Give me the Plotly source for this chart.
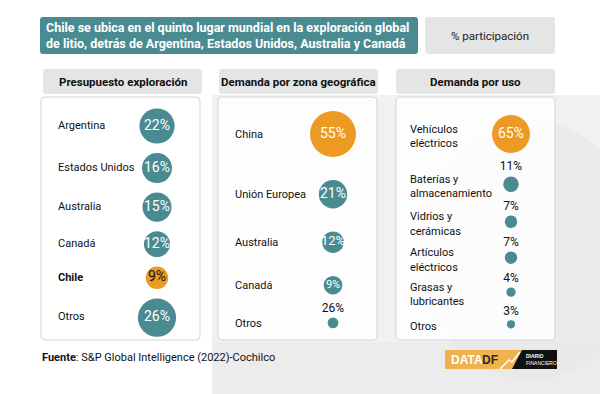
import numpy as np
import plotly.graph_objects as go

# ---------------- data ----------------
title_lines = ["Chile se ubica en el quinto lugar mundial en la exploración global",
               "de litio, detrás de Argentina, Estados Unidos, Australia y Canadá"]
unit_label = "% participación"
panel_titles = ["Presupuesto exploración", "Demanda por zona geográfica", "Demanda por uso"]

budget_cats = ["Argentina", "Estados Unidos", "Australia", "Canadá", "Chile", "Otros"]
budget_vals = [22, 16, 15, 12, 9, 26]
budget_labels = ["22%", "16%", "15%", "12%", "9%", "26%"]
budget_highlight = "Chile"

geo_cats = ["China", "Unión Europea", "Australia", "Canadá", "Otros"]
geo_vals = [55, 21, 12, 9, 3]
geo_labels = ["55%", "21%", "12%", "9%", "26%"]
geo_highlight = "China"

use_cats = ["Vehículos<br>eléctricos", "Baterías y<br>almacenamiento", "Vidrios y<br>cerámicas",
            "Artículos<br>eléctricos", "Grasas y<br>lubricantes", "Otros"]
use_vals = [65, 11, 7, 7, 4, 3]
use_labels = ["65%", "11%", "7%", "7%", "4%", "3%"]
use_highlight = "Vehículos<br>eléctricos"

source_text = "S&P Global Intelligence (2022)-Cochilco"

# ---------------- styles ----------------
W, H = 600, 394
FONT = "Roboto, sans-serif"
TEAL = "#4a8b92"
ORANGE = "#ec9a24"
HEADER_GRAY = "#e5e5e5"

panels = [
    dict(cats=budget_cats, vals=budget_vals, labels=budget_labels, hl=budget_highlight,
         box=(41, 97, 200, 340), head=(43, 69, 202, 94), xc=157, xl=58, k=7.5, gap=9.5, y1=126,
         ly=0, fill="#ffffff"),
    dict(cats=geo_cats, vals=geo_vals, labels=geo_labels, hl=geo_highlight,
         box=(218, 97, 377, 340), head=(219, 69, 378, 94), xc=333, xl=235, k=6.2, gap=23, y1=134,
         ly=1, fill="rgba(255,255,255,0.82)"),
    dict(cats=use_cats, vals=use_vals, labels=use_labels, hl=use_highlight,
         box=(396, 97, 555, 340), head=(396, 69, 555, 94), xc=511, xl=410, k=4.7, gap=23.5, y1=134,
         ly=3, fill="rgba(255,255,255,0.82)"),
]


def rrect(x0, y0, x1, y1, r):
    return (f"M{x0+r},{y0} L{x1-r},{y0} Q{x1},{y0} {x1},{y0+r} L{x1},{y1-r} Q{x1},{y1} {x1-r},{y1} "
            f"L{x0+r},{y1} Q{x0},{y1} {x0},{y1-r} L{x0},{y0+r} Q{x0},{y0} {x0+r},{y0} Z")


fig = go.Figure()
shapes = []
annotations = []

# background texture (light photo area)
shapes.append(dict(type="rect", x0=212, y0=95, x1=W, y1=H, fillcolor="#f1f1f1", line_width=0, layer="below"))
shapes.append(dict(type="rect", x0=212, y0=342, x1=W, y1=H, fillcolor="#e9e9e9", line_width=0, layer="below",
                   opacity=0.7))
shapes.append(dict(type="circle", x0=420, y0=120, x1=640, y1=380, fillcolor="#e6e6e6", line_width=0,
                   layer="below", opacity=0.5))

# title box
shapes.append(dict(type="path", path=rrect(40, 17, 418, 54, 3), fillcolor=TEAL, line_width=0, layer="below"))
annotations.append(dict(x=44, y=35.5, xref="x", yref="y", xanchor="left", yanchor="middle", showarrow=False,
                        align="left", text="<b>" + "<br>".join(title_lines) + "</b>",
                        font=dict(family=FONT, size=12.5, color="white")))
shapes.append(dict(type="path", path=rrect(425, 17, 555, 54, 3), fillcolor=HEADER_GRAY, line_width=0,
                   layer="below"))
annotations.append(dict(x=490, y=35.5, xref="x", yref="y", xanchor="center", yanchor="middle", showarrow=False,
                        text=unit_label, font=dict(family=FONT, size=11.5, color="#222")))

for p, ttl in zip(panels, panel_titles):
    hx0, hy0, hx1, hy1 = p["head"]
    shapes.append(dict(type="path", path=rrect(hx0, hy0, hx1, hy1, 3), fillcolor=HEADER_GRAY, line_width=0,
                       layer="below"))
    annotations.append(dict(x=(hx0 + hx1) / 2, y=(hy0 + hy1) / 2, xref="x", yref="y", xanchor="center",
                            yanchor="middle", showarrow=False, text="<b>" + ttl + "</b>",
                            font=dict(family=FONT, size=11.5, color="#111")))
    bx0, by0, bx1, by1 = p["box"]
    shapes.append(dict(type="path", path=rrect(bx0, by0, bx1, by1, 4), fillcolor=p["fill"],
                       line=dict(color="#d4d4d4", width=1), layer="below"))

    vals = np.array(p["vals"], dtype=float)
    d = p["k"] * np.sqrt(vals)
    ys = [p["y1"]]
    for i in range(1, len(vals)):
        ys.append(ys[-1] + d[i - 1] / 2 + p["gap"] + d[i] / 2)
    ys = np.array(ys)
    is_hl = [c == p["hl"] for c in p["cats"]]
    colors = [ORANGE if h else TEAL for h in is_hl]
    inside = d >= 16
    tpos = ["middle center" if ins else "top center" for ins in inside]
    tsize = [min(14, round(0.6 * di)) if ins else 12 for di, ins in zip(d, inside)]
    tcol = [("#111" if (h and di < 25) else "white") if ins else "#111"
            for h, di, ins in zip(is_hl, d, inside)]
    fig.add_trace(go.Scatter(
        x=[p["xc"]] * len(vals), y=ys, mode="markers+text",
        marker=dict(size=d, sizemode="diameter", color=colors, line=dict(width=0), opacity=1),
        text=p["labels"], textposition=tpos,
        textfont=dict(family=FONT, size=tsize, color=tcol),
        hoverinfo="skip", showlegend=False, cliponaxis=False))
    cat_text = ["<b>" + c + "</b>" if (h and p["hl"] == budget_highlight) else c
                for c, h in zip(p["cats"], is_hl)]
    fig.add_trace(go.Scatter(
        x=[p["xl"]] * len(vals), y=ys + p["ly"], mode="text", text=cat_text, textposition="middle right",
        textfont=dict(family=FONT, size=11, color="#111"),
        hoverinfo="skip", showlegend=False, cliponaxis=False))

# footer
annotations.append(dict(x=40, y=357, xref="x", yref="y", xanchor="left", yanchor="middle", showarrow=False,
                        text="<b>Fuente</b>: " + source_text, font=dict(family=FONT, size=11, color="#111")))

# logo
shapes.append(dict(type="rect", x0=445, y0=350, x1=522, y1=369, fillcolor="#f0b24c", line_width=0))
shapes.append(dict(type="path", path="M512,369 L522,350 L557,350 L557,369 Z", fillcolor="#111111",
                   line_width=0))
shapes.append(dict(type="path", path="M500,369 L509,360 L512,362 L520,352", line=dict(color="white", width=1.5)))
annotations.append(dict(x=449, y=359.5, xref="x", yref="y", xanchor="left", yanchor="middle", showarrow=False,
                        text="<b>DATA</b>", font=dict(family="Liberation Sans, Arial", size=12, color="white")))
annotations.append(dict(x=480, y=359.5, xref="x", yref="y", xanchor="left", yanchor="middle", showarrow=False,
                        text="<b>DF</b>", font=dict(family="Liberation Sans, Arial", size=12, color="#2a2a2a")))
annotations.append(dict(x=524, y=359.5, xref="x", yref="y", xanchor="left", yanchor="middle", showarrow=False,
                        align="left", text="<b>DIARIO</b><br>FINANCIERO",
                        font=dict(family="Liberation Sans, Arial", size=5, color="white")))

fig.update_layout(
    width=W, height=H, margin=dict(l=0, r=0, t=0, b=0),
    paper_bgcolor="white", plot_bgcolor="rgba(0,0,0,0)",
    xaxis=dict(range=[0, W], visible=False, fixedrange=True, domain=[0, 1]),
    yaxis=dict(range=[H, 0], visible=False, fixedrange=True, domain=[0, 1]),
    shapes=shapes, annotations=annotations,
)
fig.write_html("out.html")
